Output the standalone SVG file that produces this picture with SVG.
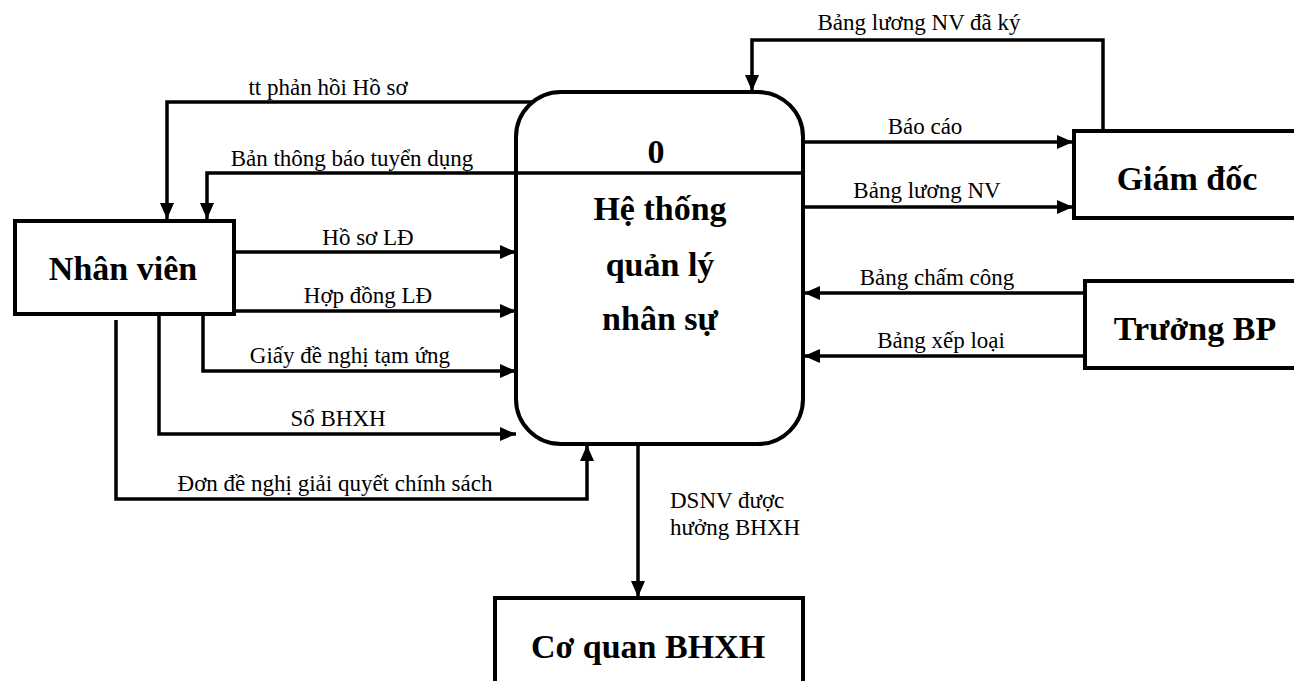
<svg xmlns="http://www.w3.org/2000/svg" width="1294" height="681" viewBox="0 0 1294 681">
<defs>
<marker id="arr" markerUnits="userSpaceOnUse" markerWidth="18" markerHeight="14" refX="16" refY="7" orient="auto">
<path d="M0,0 L16,7 L0,14 Z" fill="#000"/>
</marker>
<style>
.box{fill:#fff;stroke:#000;stroke-width:4}
.ln{fill:none;stroke:#000;stroke-width:3.5}
.ar{marker-end:url(#arr)}
.lbl{font-family:"Liberation Serif","Times New Roman",serif;font-size:23px;fill:#000}
.big{font-family:"Liberation Serif","Times New Roman",serif;font-size:34px;font-weight:bold;fill:#000}
</style>
</defs>
<rect width="1294" height="681" fill="#fff"/>
<g id="connectors">
<path class="ln ar" d="M533,102 H167 V219"/>
<path class="ln ar" d="M516,173 H207 V219"/>
<path class="ln ar" d="M234,252 H516"/>
<path class="ln ar" d="M234,311 H516"/>
<path class="ln ar" d="M203,316 V371 H516"/>
<path class="ln ar" d="M159,316 V434 H516"/>
<path class="ln ar" d="M116,320 V499 H587 V445"/>
<path class="ln ar" d="M638,444 V597"/>
<path class="ln ar" d="M803,142 H1073"/>
<path class="ln ar" d="M803,207 H1073"/>
<path class="ln ar" d="M1103,131 V40 H752 V91"/>
<path class="ln ar" d="M1084,293 H804"/>
<path class="ln ar" d="M1084,356 H804"/>
<g class="lbl" text-anchor="middle">
<text x="328" y="95">tt phản hồi Hồ sơ</text>
<text x="352" y="166">Bản thông báo tuyển dụng</text>
<text x="368" y="245">Hồ sơ LĐ</text>
<text x="368" y="303">Hợp đồng LĐ</text>
<text x="350" y="363">Giấy đề nghị tạm ứng</text>
<text x="338" y="426">Sổ BHXH</text>
<text x="335" y="491">Đơn đề nghị giải quyết chính sách</text>
<text x="919" y="30">Bảng lương NV đã ký</text>
<text x="925" y="134">Báo cáo</text>
<text x="927" y="198">Bảng lương NV</text>
<text x="937" y="285">Bảng chấm công</text>
<text x="941" y="348">Bảng xếp loại</text>
</g>
<text class="lbl" x="670" y="508">DSNV được</text>
<text class="lbl" x="670" y="535">hưởng BHXH</text>
</g>
<g id="process0">
<rect class="box" x="516" y="92" width="287" height="352" rx="45" ry="45"/>
<line class="ln" x1="516" y1="173" x2="803" y2="173"/>
<text class="big" x="656" y="163" text-anchor="middle">0</text>
<text class="big" x="660" y="220" text-anchor="middle">Hệ thống</text>
<text class="big" x="660" y="276" text-anchor="middle">quản lý</text>
<text class="big" x="660" y="330" text-anchor="middle">nhân sự</text>
</g>
<g id="nhanvien">
<rect class="box" x="15" y="221" width="219" height="93"/>
<text class="big" x="123" y="280" text-anchor="middle">Nhân viên</text>
</g>
<g id="giamdoc">
<rect class="box" x="1074" y="131" width="240" height="87"/>
<text class="big" x="1187" y="190" text-anchor="middle">Giám đốc</text>
</g>
<g id="truongbp">
<rect class="box" x="1085" y="281" width="230" height="87"/>
<text class="big" x="1195" y="340" text-anchor="middle">Trưởng BP</text>
</g>
<g id="coquanbhxh">
<rect class="box" x="495" y="598" width="308" height="110"/>
<text class="big" x="648" y="658" text-anchor="middle">Cơ quan BHXH</text>
</g>
</svg>
